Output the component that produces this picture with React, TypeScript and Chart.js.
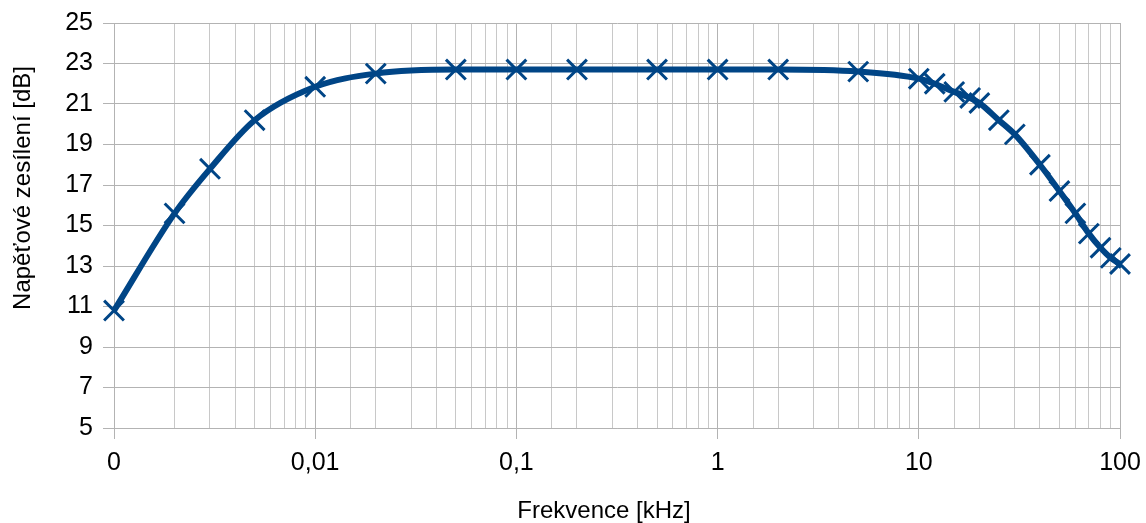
import { useEffect, useRef } from "react";
import { Chart, registerables } from "chart.js";
Chart.register(...registerables);

const frequencies = [0.001, 0.002, 0.003, 0.005, 0.01, 0.02, 0.05, 0.1, 0.2, 0.5, 1, 2, 5, 10, 12, 15, 18, 20, 25, 30, 40, 50, 60, 70, 80, 90, 100];
const gains = [10.8, 15.6, 17.8, 20.2, 21.85, 22.5, 22.7, 22.7, 22.7, 22.7, 22.7, 22.7, 22.6, 22.25, 22.0, 21.6, 21.3, 21.05, 20.2, 19.5, 18.0, 16.7, 15.6, 14.6, 13.9, 13.4, 13.1];
const xMin = 0.001;
const xMax = 100;
const yMin = 5;
const yMax = 25;
const yStep = 2;
const majorLabels: Record<string, string> = { "0.001": "0", "0.01": "0,01", "0.1": "0,1", "1": "1", "10": "10", "100": "100" };
const xTitle = "Frekvence [kHz]";
const yTitle = "Napěťové zesílení [dB]";

const FONT = '"Liberation Sans", Arial, sans-serif';
const LINE = "#004586";

function isMajor(v: number) {
  const l = Math.log10(v);
  return Math.abs(l - Math.round(l)) < 1e-6;
}

const titlesPlugin = {
  id: "titles",
  afterDraw(chart: any) {
    const ctx = chart.ctx;
    ctx.save();
    ctx.fillStyle = "#000";
    ctx.font = `24px ${FONT}`;
    ctx.textAlign = "center";
    ctx.textBaseline = "middle";
    ctx.fillText(xTitle, 604, 511);
    ctx.translate(23, 188);
    ctx.rotate(-Math.PI / 2);
    ctx.fillText(yTitle, 0, 0);
    ctx.restore();
  },
};

export default function App() {
  const ref = useRef<HTMLCanvasElement>(null);
  useEffect(() => {
    const chart = new Chart(ref.current!, {
      type: "line",
      data: {
        datasets: [
          {
            data: frequencies.map((f, i) => ({ x: f, y: gains[i] })),
            borderColor: LINE,
            backgroundColor: LINE,
            borderWidth: 6,
            pointStyle: "crossRot",
            pointRadius: 14,
            pointBorderWidth: 3,
            pointBorderColor: LINE,
            cubicInterpolationMode: "monotone",
            clip: false,
          } as any,
        ],
      },
      options: {
        responsive: false,
        animation: false,
        layout: { padding: { top: 23, right: 26, left: 0, bottom: 0 } },
        plugins: { legend: { display: false }, tooltip: { enabled: false } },
        scales: {
          x: {
            type: "logarithmic",
            min: xMin,
            max: xMax,
            afterFit(scale: any) {
              scale.height = 95;
              scale.paddingLeft = 0;
              scale.paddingRight = 0;
            },
            border: { color: "#b3b3b3", width: 1 },
            grid: {
              color: (c: any) => (c.tick && isMajor(c.tick.value) ? "#b3b3b3" : "#c8c8c8"),
              tickColor: (c: any) => (c.tick && isMajor(c.tick.value) ? "#b3b3b3" : "rgba(0,0,0,0)"),
              tickLength: 11,
            },
            ticks: {
              autoSkip: false,
              maxRotation: 0,
              minRotation: 0,
              padding: 9,
              color: "#000",
              font: { family: FONT, size: 25 },
              callback: (v: any) => {
                const n = Number(v);
                if (!isMajor(n)) return "";
                return majorLabels[String(Number(n.toPrecision(6)))] ?? "";
              },
            },
          },
          y: {
            type: "linear",
            min: yMin,
            max: yMax,
            afterFit(scale: any) {
              scale.width = 114;
              scale.paddingTop = 0;
              scale.paddingBottom = 0;
            },
            border: { color: "#b3b3b3", width: 1 },
            grid: { color: "#b3b3b3", tickColor: "#b3b3b3", tickLength: 11 },
            ticks: {
              stepSize: yStep,
              padding: 10,
              color: "#000",
              font: { family: FONT, size: 25 },
            },
          },
        },
      },
      plugins: [titlesPlugin],
    });
    return () => chart.destroy();
  }, []);
  return (
    <div style={{ position: "fixed", left: 0, top: 0, width: 1146, height: 523, background: "#fff" }}>
      <canvas ref={ref} width={1146} height={523} />
    </div>
  );
}
